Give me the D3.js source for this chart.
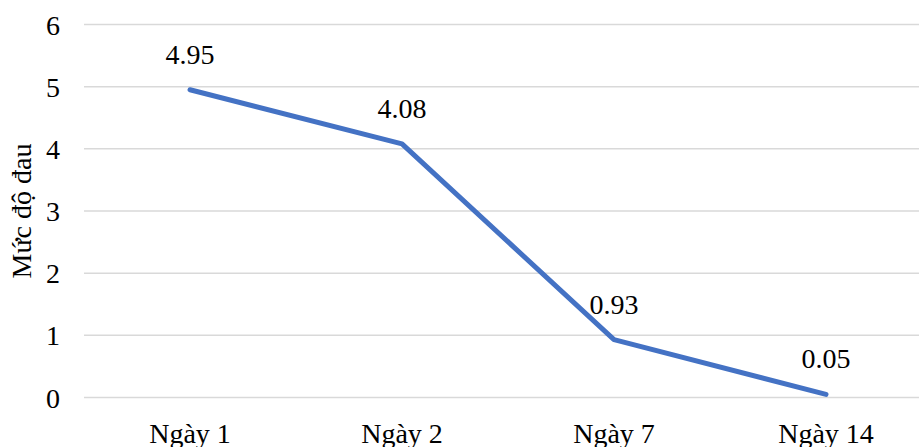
<!DOCTYPE html>
<html>
<head>
<meta charset="utf-8">
<script src="https://cdn.jsdelivr.net/npm/d3@7/dist/d3.min.js"></script>
<style>
  html, body { margin: 0; padding: 0; background: #fff; overflow: hidden; }
  svg { display: block; }
</style>
</head>
<body>
<svg id="chart" width="919" height="447" font-family="Liberation Serif"></svg>
<script>
// Pain level over the recovery days
const categories = ["Ngày 1", "Ngày 2", "Ngày 7", "Ngày 14"];
const painValues = [4.95, 4.08, 0.93, 0.05];
const yTicks = [0, 1, 2, 3, 4, 5, 6];
const yTitle = "Mức độ đau";

const W = 919, H = 447;
const plot = { left: 84, right: 932, top: 24.5, bottom: 397.5 };
const FONT = "Liberation Serif";
const fontSize = 28;

const svg = d3.select("#chart");

const x = d3.scaleBand()
  .domain(categories)
  .range([plot.left, plot.right])
  .paddingInner(0).paddingOuter(0);

const y = d3.scaleLinear()
  .domain([0, 6])
  .range([plot.bottom, plot.top]);

const styleText = sel => sel
  .attr("font-family", FONT)
  .attr("font-size", fontSize)
  .attr("fill", "#000");

// horizontal gridlines
svg.append("g")
  .selectAll("line")
  .data(yTicks)
  .join("line")
  .attr("x1", plot.left)
  .attr("x2", W)
  .attr("y1", d => y(d))
  .attr("y2", d => y(d))
  .attr("stroke", "#d9d9d9")
  .attr("stroke-width", 1.5);

// y-axis tick labels
const yAxis = d3.axisLeft(y).tickValues(yTicks).tickSize(0).tickPadding(0).tickFormat(d3.format("d"));
svg.append("g")
  .attr("transform", `translate(${60},0)`)
  .call(yAxis)
  .call(g => g.select(".domain").remove())
  .attr("font-family", FONT)
  .attr("font-size", fontSize)
  .selectAll("text")
  .call(styleText)
  .attr("dy", "0.34em");

// x-axis category labels
const xAxis = d3.axisBottom(x).tickSize(0).tickPadding(0);
svg.append("g")
  .attr("transform", `translate(0,${plot.bottom})`)
  .call(xAxis)
  .call(g => g.select(".domain").remove())
  .attr("font-family", FONT)
  .attr("font-size", fontSize)
  .selectAll("text")
  .call(styleText)
  .attr("y", 45)
  .attr("dy", 0);

// y-axis title
svg.append("text")
  .attr("transform", `translate(31,${(plot.top + plot.bottom) / 2}) rotate(-90)`)
  .attr("text-anchor", "middle")
  .call(styleText)
  .text(yTitle);

const cx = d => x(d) + x.bandwidth() / 2;
const points = categories.map((c, i) => ({ c, v: painValues[i] }));

// the series line
svg.append("path")
  .datum(points)
  .attr("fill", "none")
  .attr("stroke", "#4472c4")
  .attr("stroke-width", 5)
  .attr("stroke-linecap", "round")
  .attr("stroke-linejoin", "round")
  .attr("d", d3.line().x(d => cx(d.c)).y(d => y(d.v)));

// value labels above each point
svg.append("g")
  .selectAll("text")
  .data(points)
  .join("text")
  .attr("x", d => cx(d.c))
  .attr("y", d => y(d.v) - 26)
  .attr("text-anchor", "middle")
  .call(styleText)
  .text(d => d3.format(".2f")(d.v));
</script>
</body>
</html>
